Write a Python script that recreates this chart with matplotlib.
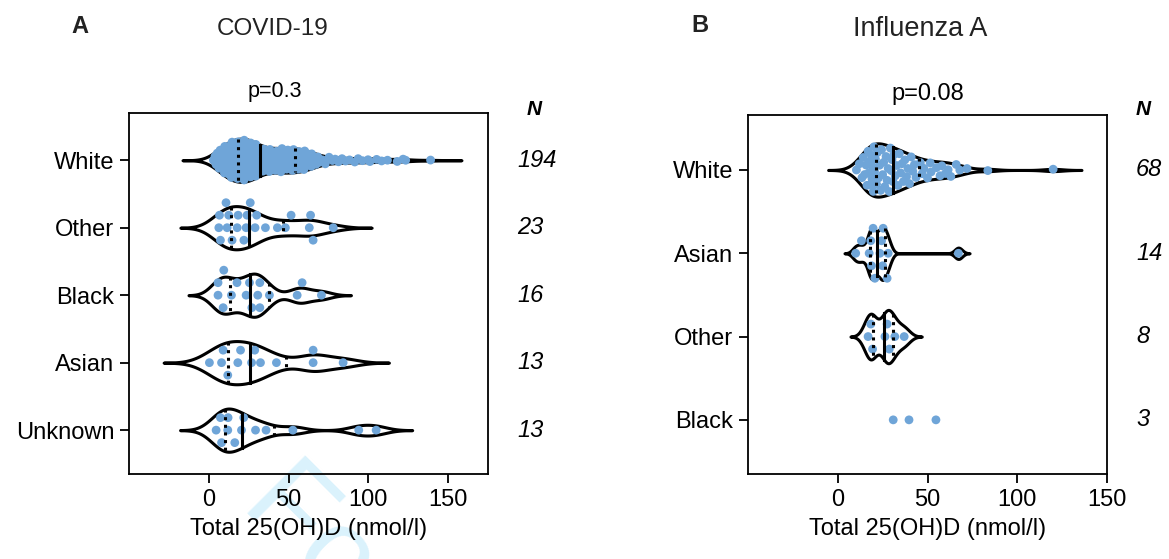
import numpy as np
import matplotlib
matplotlib.use("Agg")
import matplotlib.pyplot as plt

plt.rcParams['font.family'] = ['Liberation Sans', 'DejaVu Sans']

DOT = '#6fa5d8'
W, H = 1169, 559

# ---- panel A : COVID-19 ----
covid_groups = ['White', 'Other', 'Black', 'Asian', 'Unknown']
covid_n = ['194', '23', '16', '13', '13']
covid_white = [2.9, 3.9, 4.6,
               5.3, 5.6, 6.2, 6.4, 7.1, 7.3, 7.9, 8.4, 8.5, 9.1, 9.3, 9.8,
               10.0, 10.5, 10.6, 11.1, 11.2, 11.7, 11.9, 12.3, 12.4, 12.9, 13.0, 13.2, 13.6, 13.7, 14.1, 14.2, 14.6, 14.7, 14.9,
               15.0, 15.4, 15.5, 15.9, 16.1, 16.2, 16.6, 16.9, 17.0, 17.3, 17.4, 17.8, 18.0, 18.3, 18.4, 18.9, 19.1, 19.2, 19.6, 19.8,
               20.0, 20.4, 20.5, 20.9, 21.1, 21.2, 21.6, 21.7, 22.1, 22.2, 22.6, 22.7, 23.1, 23.2, 23.6, 23.7, 24.0, 24.3, 24.4, 24.8, 24.9,
               25.1, 25.6, 25.7, 26.2, 26.3, 26.5, 26.8, 27.0, 27.4, 27.5, 27.8, 28.0, 28.1, 28.4, 28.6, 28.7, 28.9, 29.1, 29.2, 29.4, 29.5, 29.6, 29.8, 29.9,
               33.0, 33.2, 33.8, 34.0, 34.6, 34.8,
               35.3, 36.0, 36.3, 37.0, 37.3, 38.0, 38.3, 38.8, 39.5, 39.8,
               40.3, 40.9, 41.4, 41.7, 42.4, 42.6, 43.3, 43.5, 44.1, 44.4, 44.9,
               45.2, 45.9, 46.1, 46.8, 47.0, 47.7, 47.9, 48.6, 48.8, 49.5, 49.7,
               50.4, 50.6, 51.3, 51.5, 52.2, 52.4, 53.1, 53.3, 54.0, 54.2, 54.9,
               55.1, 55.8, 56.0, 56.7, 56.9, 57.6, 57.8, 58.5, 58.7, 59.4, 59.6,
               60.1, 60.9, 61.2, 62.0, 62.3, 63.1, 63.4, 64.2, 64.5,
               65.7, 66.5, 67.3, 68.4, 69.0,
               71.2, 73.0, 75.4, 77.5, 79.2,
               81.3, 83.5, 85.7, 88.2,
               91.5, 93.6, 96.3, 99.8,
               101.0, 105.2, 108.3,
               112.0, 118.1,
               121.8, 123.4, 139.0]
covid_other = [7.3, 12.5, 17.8, 24.0, 6.7, 11.5, 26.0, 30.0, 43.0, 48.0, 63.0, 78.0,
               14.6, 22.0, 29.0, 35.5, 51.6, 63.8, 6.3, 10.8, 18.4, 23.4, 65.4]
covid_black = [9.0, 27.0, 32.0, 5.8, 17.7, 25.5, 30.7, 38.0, 58.5,
               9.4, 14.2, 23.4, 55.4, 70.6, 5.8, 32.0]
covid_asian = [9.0, 0.4, 8.0, 18.2, 26.8, 32.4, 42.4, 65.4, 84.2, 11.9, 19.9, 28.8, 65.4]
covid_unknown = [7.3, 11.9, 16.3, 21.9, 8.0, 29.3, 35.9, 52.7, 94.0, 104.9, 4.6, 12.1, 20.5]

# ---- panel B : Influenza A ----
flu_groups = ['White', 'Asian', 'Other', 'Black']
flu_n = ['68', '14', '8', '3']
flu_white = [10.4, 12.0, 13.5, 14.2, 15.0, 15.8, 16.3, 16.9, 17.4, 17.8, 18.3, 18.7, 19.1, 19.5, 19.8, 20.2, 20.5,
             21.0, 21.6, 22.1, 22.7, 23.3, 23.9, 24.4, 25.0, 25.6, 26.2, 26.9, 27.5, 28.1, 28.7, 29.3, 29.8, 30.2,
             30.7, 31.3, 32.0, 32.8, 33.5, 34.3, 35.0, 35.8, 36.6, 37.4, 38.3, 39.1, 40.0, 40.9, 41.8, 42.7, 43.6,
             46.0, 47.0, 48.0, 50.0, 51.5, 52.0, 55.0, 57.0, 58.0, 60.0, 61.5, 63.0, 66.0, 68.0, 72.0, 83.6, 120.0]
flu_asian = [24.4, 13.2, 19.7, 25.0, 17.5, 20.7, 27.5, 67.2, 10.0, 18.8, 25.3, 18.4, 23.5, 28.1]
flu_other = [18.4, 27.5, 31.8, 19.4, 26.3, 37.0, 16.9, 28.7]
flu_black = [30.9, 39.7, 54.7]


def nrd0(x):
    sd = np.std(x, ddof=1)
    q75, q25 = np.percentile(x, [75, 25])
    lo = min(sd, (q75 - q25) / 1.34)
    if lo <= 0:
        lo = sd
    return 0.9 * lo * len(x) ** -0.2


def kde(x, adjust=0.78):
    bw = nrd0(x) * adjust
    grid = np.linspace(x.min() - 3 * bw, x.max() + 3 * bw, 600)
    d = np.exp(-0.5 * ((grid[:, None] - x[None, :]) / bw) ** 2).sum(1)
    return grid, d


def vdc(i):
    v, den = 0.0, 1.0
    while i:
        den *= 2
        i, r = divmod(i, 2)
        v += r / den
    return v


def swarm(x, xs, step, gap):
    # row-wise beeswarm, offsets in pixels
    offs = np.zeros(len(x))
    placed = []
    cands = [0] + [s * j for j in range(1, 30) for s in (-1, 1)]
    for i in np.argsort(x):
        px = x[i] * xs
        for c in cands:
            if all(o != c or abs(px - q) >= gap for q, o in placed):
                break
        placed.append((px, c))
        offs[i] = c * step
    return offs


def draw_group(ax, vals, pos, xs, ys, violin=True, half=0.32):
    x = np.asarray(vals, float)
    if violin:
        grid, d = kde(x)
        w = half * d / d.max()
        ax.fill_between(grid, pos - w, pos + w, facecolor='white',
                        edgecolor='black', lw=2.2, zorder=2)
    if violin and len(x) > 40:
        rank = np.argsort(np.argsort(x))
        wx = np.interp(x, grid, w)
        off = np.array([(2 * vdc(r + 1) - 1) for r in rank]) * wx * 0.95
    else:
        off = swarm(x, xs, 12.5, 7.5) / ys
    ax.scatter(x, pos + off, s=40, color=DOT, edgecolors='none', zorder=3)
    if violin:
        cdf = np.cumsum(d)
        cdf /= cdf[-1]
        for p, ls in ((0.25, (0, (1, 1.5))), (0.5, '-'), (0.75, (0, (1, 1.5)))):
            q = np.interp(p, cdf, grid)
            hw = np.interp(q, grid, w)
            ax.plot([q, q], [pos - hw, pos + hw], color='black', lw=2.2,
                    ls=ls, zorder=4)


def style(ax, labels, ylim):
    ax.set_facecolor('none')
    for s in ax.spines.values():
        s.set_linewidth(1.3)
    ax.set_yticks(range(len(labels)))
    ax.set_yticklabels(labels)
    ax.set_ylim(*ylim)
    ax.set_xticks([0, 50, 100, 150])
    ax.tick_params(axis='both', length=6.5, width=1.3, labelsize=17, pad=4)
    ax.set_xlabel('Total 25(OH)D (nmol/l)', fontsize=17, labelpad=5)


fig = plt.figure(figsize=(W / 100, H / 100), dpi=100)

# faint review watermark, bottom centre-left
fig.text(240 / W, 1 - 506 / H, 'For Peer Review', fontsize=85, color='#daf2fc',
         rotation=-45, rotation_mode='anchor', ha='left', va='baseline', zorder=-5)

axA = fig.add_axes([129 / W, 1 - 474 / H, 359 / W, 361 / H])
axA.set_xlim(-50, 175)
xsA, ysA = 359 / 225, 361 / 5.35
for i, vals in enumerate([covid_white, covid_other, covid_black, covid_asian, covid_unknown]):
    draw_group(axA, vals, i, xsA, ysA)
style(axA, covid_groups, (4.65, -0.70))
for i, n in enumerate(covid_n):
    axA.text(1.081, i, n, transform=axA.get_yaxis_transform(), fontsize=17,
             style='italic', ha='left', va='center')

axB = fig.add_axes([748 / W, 1 - 474 / H, 359 / W, 359 / H])
axB.set_xlim(-50, 150)
xsB, ysB = 359 / 200, 359 / 4.31
for i, vals in enumerate([flu_white, flu_asian, flu_other, flu_black]):
    draw_group(axB, vals, i, xsB, ysB, violin=len(vals) > 5)
style(axB, flu_groups, (3.65, -0.66))
for i, n in enumerate(flu_n):
    axB.text(1.081, i, n, transform=axB.get_yaxis_transform(), fontsize=17,
             style='italic', ha='left', va='center')

fig.text(80 / W, 1 - 33 / H, 'A', fontsize=17, weight='bold', ha='center', va='baseline', color='#222222')
fig.text(273 / W, 1 - 35 / H, 'COVID-19', fontsize=17.5, ha='center', va='baseline', color='#222222')
fig.text(275 / W, 1 - 97 / H, 'p=0.3', fontsize=15.5, ha='center', va='baseline')
fig.text(527 / W, 1 - 115 / H, 'N', fontsize=15, weight='bold', style='italic', ha='left', va='baseline')

fig.text(700 / W, 1 - 32 / H, 'B', fontsize=17, weight='bold', ha='center', va='baseline', color='#222222')
fig.text(920 / W, 1 - 36 / H, 'Influenza A', fontsize=19.5, ha='center', va='baseline', color='#222222')
fig.text(928 / W, 1 - 100 / H, 'p=0.08', fontsize=17, ha='center', va='baseline')
fig.text(1136 / W, 1 - 115 / H, 'N', fontsize=15, weight='bold', style='italic', ha='left', va='baseline')

fig.savefig('out.png', dpi=100)
